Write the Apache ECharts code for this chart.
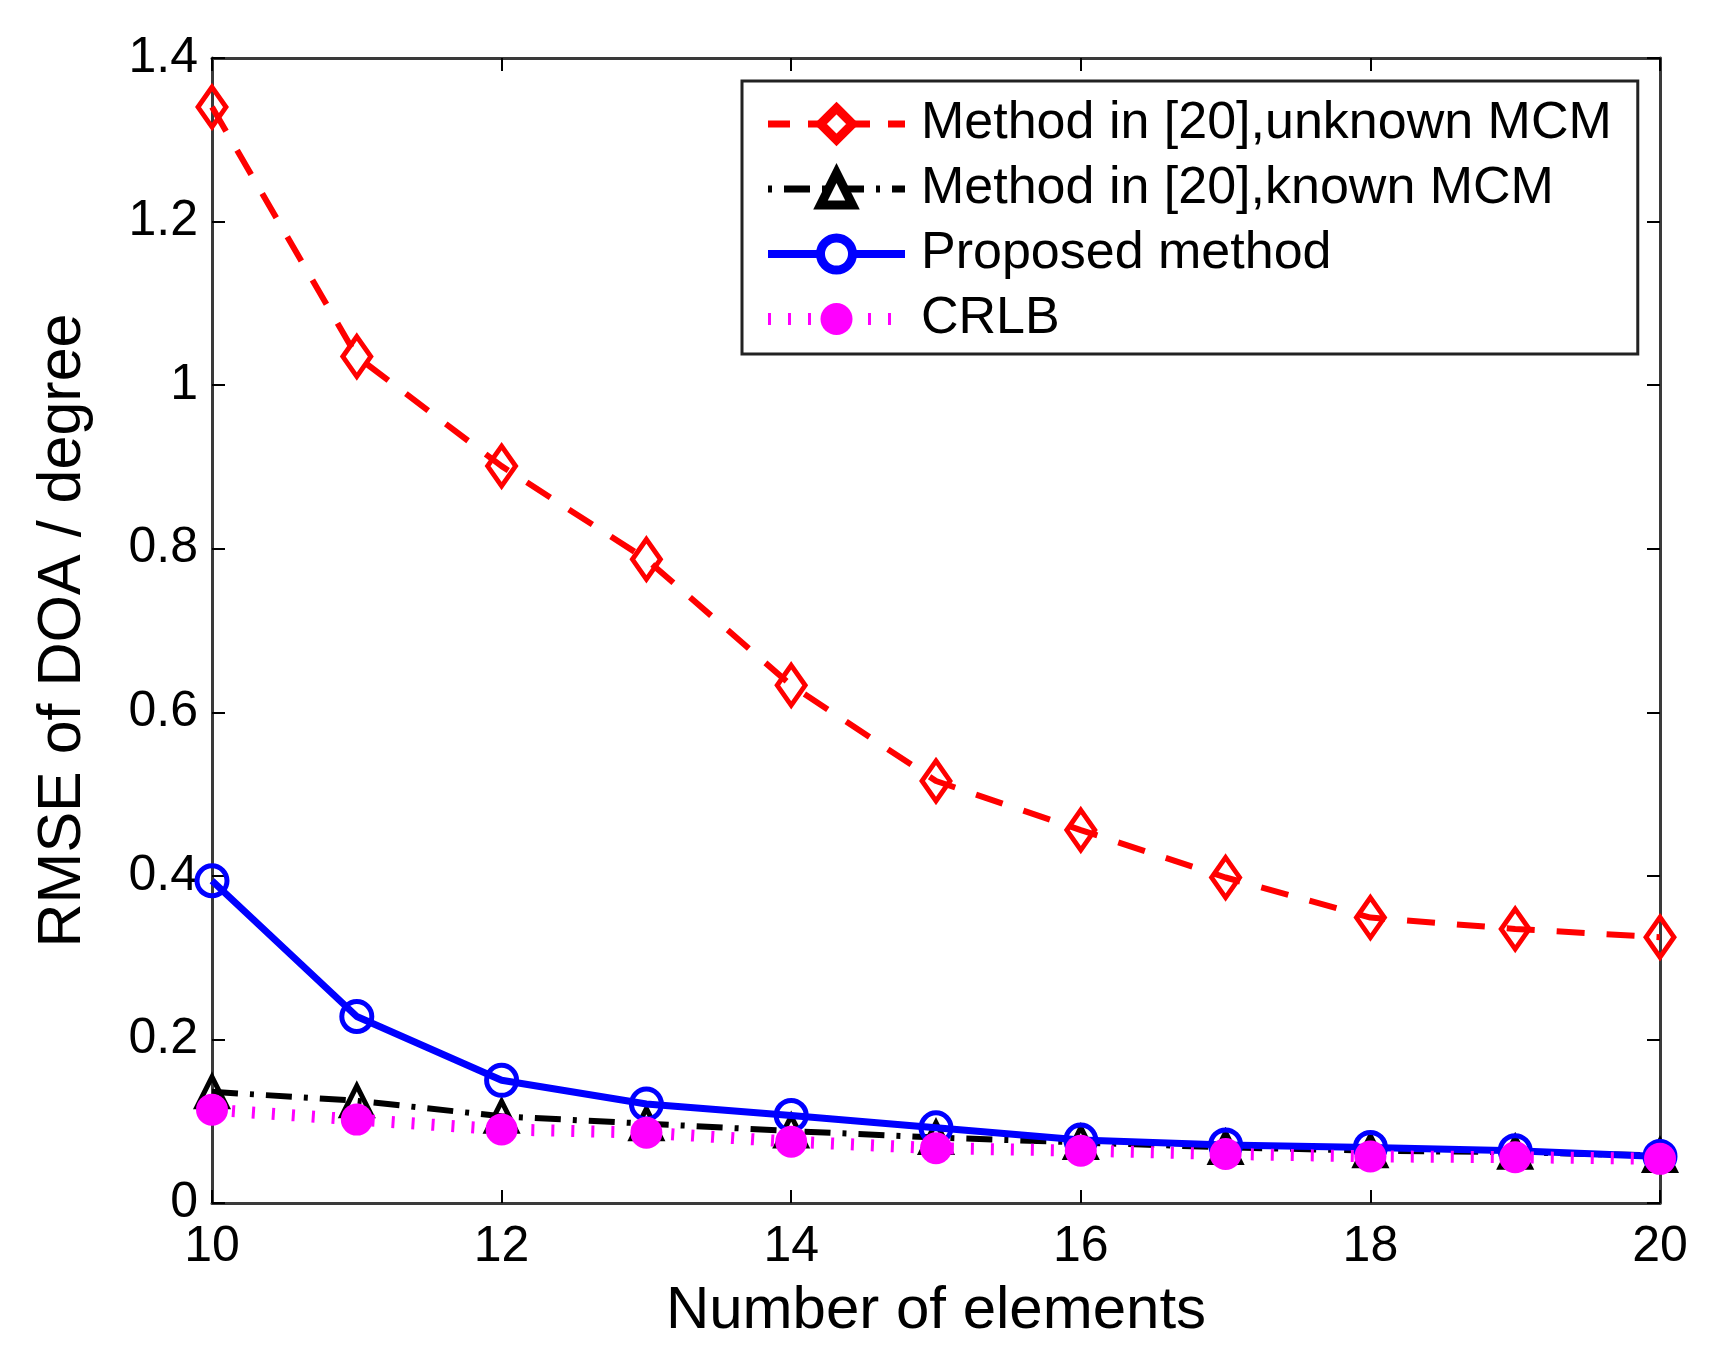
<!DOCTYPE html>
<html><head><meta charset="utf-8">
<script src="https://cdn.jsdelivr.net/npm/echarts@6/dist/echarts.min.js"></script>
<style>html,body{margin:0;padding:0;background:#fff}#c{width:1719px;height:1370px}</style>
</head><body><div id="c"></div>
<script>
const elements = [10, 11, 12, 13, 14, 15, 16, 17, 18, 19, 20];
const unknownMCM = [1.340, 1.035, 0.901, 0.787, 0.633, 0.516, 0.456, 0.398, 0.349, 0.335, 0.325];
const knownMCM = [0.136, 0.125, 0.106, 0.097, 0.088, 0.080, 0.074, 0.068, 0.064, 0.062, 0.058];
const proposed = [0.394, 0.228, 0.150, 0.121, 0.107, 0.092, 0.077, 0.071, 0.068, 0.064, 0.057];
const crlb = [0.114, 0.102, 0.090, 0.086, 0.075, 0.067, 0.064, 0.060, 0.057, 0.056, 0.054];
const seriesNames = ['Method in [20],unknown MCM', 'Method in [20],known MCM', 'Proposed method', 'CRLB'];
const xTitle = 'Number of elements';
const yTitle = 'RMSE of DOA / degree';

const FONT = 'Liberation Sans, Arial, Helvetica, sans-serif';
const pairs = ys => elements.map((x, i) => [x, ys[i]]);

const chart = echarts.init(document.getElementById('c'), null, {renderer: 'canvas'});
const axisLineStyle = {color: '#3a3a3a', width: 3};
const tickStyle = {show: true, inside: true, length: 13, lineStyle: {color: '#000', width: 2}};

const styles = [
  {line: {color: '#ff0000', width: 6, type: [28, 22]}, sym: 'diamond', size: [28, 40], fill: 'rgba(255,255,255,0)', border: '#ff0000', bw: 5},
  {line: {color: '#000000', width: 6, type: [26, 12, 4, 12]}, sym: 'triangle', size: [30, 30], fill: 'rgba(255,255,255,0)', border: '#000000', bw: 5},
  {line: {color: '#0000ff', width: 7}, sym: 'circle', size: 30, fill: 'rgba(255,255,255,0)', border: '#0000ff', bw: 5},
  {line: {color: '#ff00ff', width: 12, type: [3, 17], cap: 'butt'}, sym: 'circle', size: 32, fill: '#ff00ff', border: '#ff00ff', bw: 0}
];
const seriesData = [unknownMCM, knownMCM, proposed, crlb];
const legendLine = [
  {color: '#ff0000', width: 7, type: [22, 18]},
  {color: '#000000', width: 7, type: [4, 12, 26, 12]},
  {color: '#0000ff', width: 8},
  {color: '#ff00ff', width: 12, type: [3, 17], cap: 'butt'}
];

chart.setOption({
  animation: false,
  backgroundColor: '#fff',
  grid: {left: 212, right: 59, top: 58, bottom: 167, containLabel: false},
  legend: {
    orient: 'vertical',
    left: 742, top: 81,
    padding: [17, 26, 9, 20],
    itemWidth: 137, itemHeight: 40, itemGap: 13,
    borderColor: '#222', borderWidth: 3, borderRadius: 0,
    backgroundColor: '#fff',
    textStyle: {fontFamily: FONT, fontSize: 52, color: '#000', padding: [0, 0, 0, 11]},
    data: seriesNames.map((n, i) => ({
      name: n,
      lineStyle: legendLine[i],
      itemStyle: {color: i === 3 ? '#ff00ff' : '#fff', borderColor: styles[i].border, borderWidth: i === 3 ? 0 : 9}
    }))
  },
  xAxis: [{
    type: 'value', min: 10, max: 20, interval: 2,
    name: xTitle, nameLocation: 'middle', nameGap: 78,
    nameTextStyle: {fontFamily: FONT, fontSize: 60, color: '#000', lineHeight: 60},
    axisLine: {show: true, onZero: false, lineStyle: axisLineStyle},
    axisTick: tickStyle,
    axisLabel: {fontFamily: FONT, fontSize: 50, color: '#000', margin: 19, lineHeight: 50},
    splitLine: {show: false}
  }, {
    type: 'value', min: 10, max: 20, interval: 2, position: 'top',
    axisLine: {show: true, onZero: false, lineStyle: axisLineStyle},
    axisTick: tickStyle,
    axisLabel: {show: false},
    splitLine: {show: false}
  }],
  yAxis: [{
    type: 'value', min: 0, max: 1.4, interval: 0.2,
    name: yTitle, nameLocation: 'middle', nameGap: 118,
    nameTextStyle: {fontFamily: FONT, fontSize: 61, color: '#000'},
    axisLine: {show: true, onZero: false, lineStyle: axisLineStyle},
    axisTick: tickStyle,
    axisLabel: {fontFamily: FONT, fontSize: 50, color: '#000', margin: 14,
      formatter: v => (Math.round(v * 10) / 10).toString()},
    splitLine: {show: false}
  }, {
    type: 'value', min: 0, max: 1.4, interval: 0.2, position: 'right',
    axisLine: {show: true, onZero: false, lineStyle: axisLineStyle},
    axisTick: tickStyle,
    axisLabel: {show: false},
    splitLine: {show: false}
  }],
  series: seriesNames.map((n, i) => ({
    name: n, type: 'line', data: pairs(seriesData[i]),
    symbol: styles[i].sym, symbolSize: styles[i].size,
    itemStyle: {color: styles[i].fill, borderColor: styles[i].border, borderWidth: styles[i].bw},
    lineStyle: styles[i].line,
    z: 2 + i
  }))
});
</script>
</body></html>
